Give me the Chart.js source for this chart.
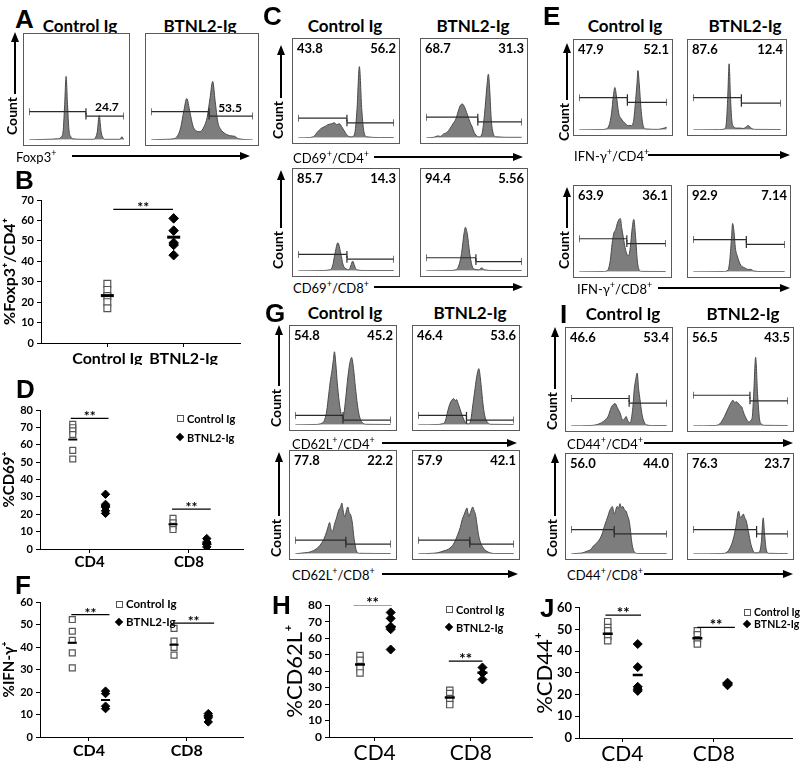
<!DOCTYPE html>
<html>
<head>
<meta charset="utf-8">
<script src="https://cdn.jsdelivr.net/npm/chart.js@4.4.1/dist/chart.umd.min.js"></script>
<style>
  body { margin: 0; background: #fff; }
  #fig { position: relative; width: 800px; height: 761px; overflow: hidden; font-family: Lato, 'DejaVu Sans', sans-serif; color: #000; }
  .abs { position: absolute; white-space: nowrap; line-height: 1; }
  .box { position: absolute; border: 1px solid #5a5a5a; box-sizing: border-box; background: #fff; }
  .box canvas { display: block; }
  .pct { position: absolute; top: 3px; font-weight: bold; font-size: 13px; line-height: 1; }
  sup { font-size: 9px; }
</style>
</head>
<body>
<div id="fig"></div>
<script>
// ---- histogram traces, [x %, height %] inside each plot box ----
const hA1 = [[0,0],[20,0.5],[30,1],[34,3],[36,10],[37.5,35],[39,63],[40.5,35],[42,10],[44,3],[46,1],[55,0.5],[68,0.5],[70,2],[72,8],[74,24],[76,8],[78,2],[80,0.5],[96,0.5],[98,3],[100,0]];
const hA2 = [[0,0],[15,0.5],[22,1],[26,4],[29,12],[32,28],[35,41],[38,28],[41,14],[44,9],[48,8],[52,13],[55,22],[58,42],[60.5,58],[63,38],[65.5,18],[68,11],[73,6],[78,4],[82,3.5],[86,1],[100,0]];

const hC1 = [[0,0],[12,0.3],[17,2],[20,6],[24,10],[28,12],[31,14],[35,15],[38,16],[40,14],[43,15],[46,11],[49,6],[52,2],[56,1],[59,4],[61.5,30],[64,76],[66.5,30],[69,5],[72,1],[85,0.3],[100,0.3]];
const hC2 = [[0,0],[8,0.5],[12,2],[15,1.5],[18,4],[22,6],[25,10],[28,15],[31,20],[34,30],[36,35],[38,36],[40,33],[43,25],[46,16],[48,12],[50,6],[52,3],[55,1],[58,3],[61,25],[63.5,55],[65,68],[66.5,50],[68,20],[70,5],[73,1],[90,0.5],[100,0.5]];
const hC3 = [[0,0],[25,0.3],[33,1],[36,5],[38.5,18],[41.5,29],[44.5,18],[47,6],[50,2],[53,1],[55,5],[57,10],[59,5],[61,1],[70,0.3],[100,0.3]];
const hC4 = [[0,0],[25,0.3],[31,1],[34,5],[37,18],[39.5,38],[41,45],[43,38],[45.5,18],[48,5],[51,1.5],[55,1],[58,3],[61,1],[70,0.3],[100,0.3]];

const hE1 = [[0,0],[25,0.3],[31,1],[34,5],[37,20],[39,40],[40.7,50],[42.5,40],[45,20],[48,13],[52,8],[56,5],[59,5],[62,10],[64,30],[66,55],[67,70],[68.5,55],[70.5,25],[73,5],[76,1],[90,0.5],[97,2],[100,3]];
const hE2 = [[0,0],[30,0.3],[36,1],[38,10],[39.5,40],[41,78],[42.5,40],[44,12],[46,4],[50,2],[54,2],[57,1.5],[60,3],[63,5],[66,2],[70,0.5],[100,0.3]];
const hE3 = [[0,0],[28,0.3],[33,2],[36,15],[38,35],[40,48],[42,52],[44,60],[46,65],[47.5,66],[49,55],[51,42],[53,30],[55,22],[57,20],[59,30],[61,52],[63,65],[65,45],[67,15],[69,3],[72,0.5],[100,0.3]];
const hE4 = [[0,0],[33,0.3],[38,2],[40,15],[42,45],[43,60],[44.5,50],[46,30],[48,20],[50,13],[52,8],[56,5],[60,3],[63,3],[66,1],[75,0.3],[100,0.3]];

const hG1 = [[0,0],[20,0.3],[28.5,2],[31,6],[33,15],[35,32],[36.5,45],[38.5,58],[40,70],[41,78],[42.5,65],[44,45],[46,25],[48,12],[49.5,8],[51,12],[53,30],[55,50],[57,65],[59,72],[61,60],[63,40],[65,22],[67,10],[70.5,2],[75,0.5],[100,0.3]];
const hG2 = [[0,0],[20,0.3],[25,1],[28,3],[31,15],[33,22],[35,26],[37,28],[39,26],[40,27],[42,22],[44,16],[46,10],[48,5],[50,2],[52.6,1],[55,5],[57,20],[59,35],[61,50],[63.5,60],[65,50],[66.5,35],[68,20],[70,8],[73,2],[76,0.5],[100,0.3]];
const hG3 = [[0,0],[10,1],[16,2],[22,5],[27,10],[30,15],[33,23],[34.5,28],[36,32],[37.5,25],[39,23],[41,30],[43,36],[45.6,45],[47.5,48],[48.8,52],[50,45],[51,40],[52,38],[53.5,44],[55,48],[56.5,42],[58,40],[60,30],[61,20],[62.5,10],[64,3],[67,0.5],[100,0.3]];
const hG4 = [[0,0],[15,0.5],[20,1],[27,3],[32,5],[37,10],[41.5,20],[44,27],[46,35],[48,40],[49.5,44],[51,47],[52,42],[53,38],[54.5,42],[56,46],[57,48],[58.5,44],[60,40],[61.5,30],[63,20],[65,12],[68,6],[71,3],[75,1],[80,0.3],[100,0.3]];

const hI1 = [[0,0],[20,0.3],[29,2],[34,5],[38.5,10],[42,20],[44,23],[46,24],[48,20],[51,14],[54,6],[56,8],[57.5,10],[59,6],[61.5,3],[63,8],[64.5,20],[66,40],[67.5,50],[69,57],[70.5,40],[72,28],[73.5,16],[75,8],[78.5,1],[85,0.3],[100,0.3]];
const hI2 = [[0,0],[22,0.3],[28,2],[33,10],[37.5,20],[40,25],[42,27.6],[44,25],[45.5,26],[47,25],[49.5,22],[51.5,20],[53,15],[55,10],[57,6],[59,4],[61,6],[62.5,10],[64,35],[66,74],[68,35],[70,8],[72,2],[76,0.5],[100,0.3]];
const hI3 = [[0,0],[8,0.5],[12,1],[17,3],[20,4],[23,8],[28,13],[32,20],[35,30],[38.5,40],[40,45],[41.5,48],[43,50],[45,42],[46.5,46],[48,50],[49.5,48],[51,53],[52.5,49],[54,50],[56,46],[57.5,45],[59,40],[60.6,35],[62,25],[63,15],[64.5,6],[66,2],[70,0.3],[100,0.3]];
const hI4 = [[0,0],[30,0.3],[36,2],[40.6,10],[43,18],[45,28],[48,45],[50,38],[51.5,40],[53,42],[54.5,38],[56,35],[59,20],[61,10],[62.5,5],[64,2],[66,1],[70,2],[72,12],[74,38],[75.5,20],[77.5,3],[80,0.5],[100,0.3]];

// gates: [split %, left bar height %, right bar height %]
const gA = [[60, 28, 23.6], [57, 28, 23.6]];
const gC = [[51, 21, 16], [54, 22, 17], [51, 17, 12], [52, 13.5, 9.5]];
const gE = [[55, 38, 32.5], [55, 38, 31.5], [55, 41, 35], [58, 40, 34]];
const gG = [[50, 10, 5], [50.5, 10, 5], [53, 14, 10], [54, 14, 10]];
const gI = [[60.6, 29.5, 24.4], [60, 33, 27], [45, 25.6, 21], [67, 25.6, 21]];

// gate percentages
const pA = ['24.7', '53.5'];
const pC = [['43.8', '56.2'], ['68.7', '31.3'], ['85.7', '14.3'], ['94.4', '5.56']];
const pE = [['47.9', '52.1'], ['87.6', '12.4'], ['63.9', '36.1'], ['92.9', '7.14']];
const pG = [['54.8', '45.2'], ['46.4', '53.6'], ['77.8', '22.2'], ['57.9', '42.1']];
const pI = [['46.6', '53.4'], ['56.5', '43.5'], ['56.0', '44.0'], ['76.3', '23.7']];

// ---- dot plots ----
const groups = ['Control Ig', 'BTNL2-Ig'];
const cells = ['CD4', 'CD8'];

const bCtrl = [[29, 26, 23, 20, 17]];
const bBtnl = [[61, 55, 49, 48, 43]];
const bMeanCtrl = [23.2];
const bMeanBtnl = [51.8];
const bSig = [65.4];

const dCtrl = [[71.7, 69.8, 68, 65.9, 56.8, 51.8], [17.6, 15, 13.1, 11.2]];
const dBtnl = [[31.5, 25.7, 24, 22, 20.5], [6, 4, 2.7, 1.2]];
const dMeanCtrl = [63, 14.3];
const dMeanBtnl = [24.7, 3];
const dSig = [75.2, 23];

const fCtrl = [[52.2, 47, 43, 37.4, 30.7], [48.3, 42.6, 39.8, 36.4]];
const fBtnl = [[20.4, 19.3, 13.7, 12.6], [10.4, 9.4, 8.5, 6.7]];
const fMeanCtrl = [41.9, 41];
const fMeanBtnl = [16.5, 9.5];
const fSig = [54.4, 50.6];

const hCtrl = [[49.4, 46.6, 42.2, 38.9], [28.4, 26.4, 23.3, 19.7]];
const hBtnl = [[75.6, 72, 67, 65.4, 53.1], [42.2, 38.9, 34.9]];
const hMeanCtrl = [44, 24];
const hMeanBtnl = [66.8, 39];
const hSig = [80.2, 46];

const jCtrl = [[53.6, 50.9, 49.4, 46.8, 44.8], [49.4, 47.6, 45.3, 43.3]];
const jBtnl = [[43.3, 32.7, 23.6, 22.5, 21.7], [25.5, 24.3]];
const jMeanCtrl = [48, 46];
const jMeanBtnl = [29, 25];
const jSig = [56.6, 51];

// ---------------------------------------------------------------
const FONT = "Lato, 'DejaVu Sans', sans-serif";
Chart.defaults.font.family = FONT;
Chart.defaults.color = '#000';

const fig = document.getElementById('fig');

function put(html, css) {
  const d = document.createElement('div');
  d.className = 'abs';
  d.innerHTML = html;
  Object.assign(d.style, css);
  fig.appendChild(d);
  return d;
}

function letter(t, x, y) {
  put(t, { left: x + 'px', top: y + 'px', font: "bold 26px 'Liberation Sans', Arial, sans-serif" });
}

function heading(t, cx, cy) {
  put(t, { left: cx + 'px', top: cy + 'px', transform: 'translate(-50%,-50%)', fontWeight: 'bold', fontSize: '17px' });
}

function hArrow(x1, x2, y) {
  put('', { left: x1 + 'px', top: (y - 0.75) + 'px', width: (x2 - x1 - 8) + 'px', height: '1.5px', background: '#000' });
  put('', { left: (x2 - 10) + 'px', top: (y - 4) + 'px', width: 0, height: 0,
    borderLeft: '10px solid #000', borderTop: '4px solid transparent', borderBottom: '4px solid transparent' });
}

function axisLabel(html, x, y, x1, x2) {
  put(html, { left: x + 'px', top: y + 'px', transform: 'translateY(-50%)', fontSize: '13px' });
  hArrow(x1, x2, y);
}

function count(x, yTop, cy) {
  put('', { left: (x - 4) + 'px', top: yTop + 'px', width: 0, height: 0,
    borderBottom: '10px solid #000', borderLeft: '4px solid transparent', borderRight: '4px solid transparent' });
  put('', { left: (x - 0.75) + 'px', top: (yTop + 8) + 'px', width: '1.5px', height: (cy - 22 - yTop - 8) + 'px', background: '#000' });
  put('Count', { left: (x - 3) + 'px', top: cy + 'px', transform: 'translate(-50%,-50%) rotate(-90deg)', fontWeight: 'bold', fontSize: '14px' });
}

function histo(box, pts, gate, pct, at) {
  const [x, y, w, h] = box;
  const wrap = document.createElement('div');
  wrap.className = 'box';
  Object.assign(wrap.style, { left: x + 'px', top: y + 'px', width: w + 'px', height: h + 'px' });
  const cv = document.createElement('canvas');
  cv.width = w - 2;
  cv.height = h - 2;
  wrap.appendChild(cv);
  fig.appendChild(wrap);

  const gateLine = (x0, x1, v) => ({
    data: [{ x: x0, y: v }, { x: x1, y: v }],
    showLine: true, borderColor: '#2b2b2b', borderWidth: 1.2,
    pointStyle: 'line', pointRotation: 90, pointRadius: 3.5,
    pointBorderColor: '#2b2b2b', pointBorderWidth: 1.2
  });

  new Chart(cv, {
    type: 'scatter',
    data: {
      datasets: [
        gateLine(0, gate[0], gate[1]),
        gateLine(gate[0], 100, gate[2]),
        {
          data: pts.map(p => ({ x: p[0], y: p[1] })),
          showLine: true, fill: 'origin', backgroundColor: '#7d7d7d',
          borderColor: '#4a4a4a', borderWidth: 1, pointRadius: 0,
          cubicInterpolationMode: 'monotone'
        }
      ]
    },
    options: {
      responsive: false, animation: false, events: [],
      layout: { padding: 0 },
      plugins: { legend: { display: false }, tooltip: { enabled: false } },
      scales: {
        x: { type: 'linear', min: 0, max: 100, display: false },
        y: { min: 0, max: 100, display: false }
      }
    }
  });

  if (at) {
    const s = document.createElement('div');
    s.className = 'pct';
    s.textContent = pct;
    Object.assign(s.style, { left: at[0] + '%', top: (100 - at[1]) + '%', transform: 'translate(-50%,-100%)', fontSize: '12px' });
    wrap.appendChild(s);
  } else {
    const l = document.createElement('div');
    l.className = 'pct';
    l.style.left = '4px';
    l.textContent = pct[0];
    const r = document.createElement('div');
    r.className = 'pct';
    r.style.right = '3px';
    r.textContent = pct[1];
    wrap.appendChild(l);
    wrap.appendChild(r);
  }
}

const starPlugin = {
  id: 'stars',
  afterDatasetsDraw(chart, args, opts) {
    const ctx = chart.ctx;
    chart.data.datasets.forEach((ds, i) => {
      if (!ds.stars) return;
      const pts = chart.getDatasetMeta(i).data;
      ctx.save();
      ctx.font = opts.font;
      ctx.fillStyle = '#000';
      ctx.textAlign = 'center';
      ctx.textBaseline = 'alphabetic';
      ctx.fillText('**', (pts[0].x + pts[1].x) / 2, pts[0].y + opts.dy);
      ctx.restore();
    });
  }
};

function dotPlot(o) {
  const cv = document.createElement('canvas');
  cv.width = o.w;
  cv.height = o.h;
  Object.assign(cv.style, { position: 'absolute', left: o.x + 'px', top: o.y + 'px' });
  fig.appendChild(cv);

  const tickX = o.tickX || o.cats.map((c, i) => i + 1);
  const at = (vals, xs) => vals.flatMap((arr, i) => arr.map(v => ({ x: xs[i], y: v })));
  const datasets = [
    { data: o.meanCtrl.map((v, i) => ({ x: o.ctrlX[i], y: v })), pointStyle: 'line', pointRadius: o.dash, pointBorderWidth: o.dashW, pointBorderColor: '#000' },
    { data: o.meanBtnl.map((v, i) => ({ x: o.btnlX[i], y: v })), pointStyle: 'line', pointRadius: o.dash, pointBorderWidth: o.dashW, pointBorderColor: '#000' }
  ];
  o.sig.forEach((v, i) => datasets.push({
    data: [{ x: o.sigX[i][0], y: v }, { x: o.sigX[i][1], y: v }],
    showLine: true, borderColor: '#000', borderWidth: 1.3, pointRadius: 0, stars: true
  }));
  datasets.push({ data: at(o.ctrl, o.ctrlX), pointStyle: 'rect', pointRadius: o.r, backgroundColor: '#fff', borderColor: '#555', borderWidth: 1.2 });
  datasets.push({ data: at(o.btnl, o.btnlX), pointStyle: 'rectRot', pointRadius: o.r, backgroundColor: '#000', borderColor: '#000', borderWidth: 1 });

  new Chart(cv, {
    type: 'scatter',
    data: { datasets },
    options: {
      responsive: false, animation: false, events: [],
      layout: { padding: o.pad },
      plugins: { legend: { display: false }, tooltip: { enabled: false }, stars: { font: o.starFont, dy: o.starDy } },
      scales: {
        x: {
          type: 'linear', min: o.xMin, max: o.xMax,
          afterBuildTicks: s => { s.ticks = tickX.map(v => ({ value: v })); },
          afterFit: s => { s.height = o.xH; },
          ticks: { callback: (v, i) => o.cats[i], font: o.xFont, color: '#000', padding: o.xPad, maxRotation: 0, autoSkip: false },
          grid: { drawOnChartArea: false, tickLength: 4, color: '#000' },
          border: { color: '#000', width: 1 }
        },
        y: {
          min: 0, max: o.yMax,
          afterFit: s => { s.width = o.yW; },
          ticks: { stepSize: 10, autoSkip: false, font: o.yFont, color: '#000', padding: 3 },
          grid: { drawOnChartArea: false, tickLength: 4, color: '#000' },
          border: { color: '#000', width: 1 },
          title: { display: true, text: o.yTitle, font: o.titleFont, color: '#000', padding: { top: o.titlePad, bottom: 0 } }
        }
      }
    },
    plugins: [starPlugin]
  });
}

function legend(x, y1, y2, size) {
  put('', { left: (x - 3.5) + 'px', top: (y1 - 3.5) + 'px', width: '7px', height: '7px', border: '1.2px solid #555', boxSizing: 'border-box' });
  put('', { left: (x - 3) + 'px', top: (y2 - 3) + 'px', width: '6px', height: '6px', background: '#000', transform: 'rotate(45deg)' });
  put(groups[0], { left: (x + 7) + 'px', top: y1 + 'px', transform: 'translateY(-50%)', fontWeight: 'bold', fontSize: size + 'px' });
  put(groups[1], { left: (x + 7) + 'px', top: y2 + 'px', transform: 'translateY(-50%)', fontWeight: 'bold', fontSize: size + 'px' });
}

// ---- panel A ----
letter('A', 15, 4);
heading(groups[0], 80, 25);
heading(groups[1], 200, 25);
histo([23, 33, 107, 113], hA1, gA[0], pA[0], [79, 29]);
histo([145, 33, 114, 113], hA2, gA[1], pA[1], [75, 28]);
count(15, 32, 116);
axisLabel('Foxp3<sup>+</sup>', 16, 156, 72, 250);

// ---- panel C ----
letter('C', 263, 1);
heading(groups[0], 345, 25);
heading(groups[1], 473, 25);
[[292, 38, 108, 106], [420, 38, 108, 106], [292, 168, 108, 109], [420, 168, 108, 109]]
  .forEach((b, i) => histo(b, [hC1, hC2, hC3, hC4][i], gC[i], pC[i]));
count(281, 45, 120);
count(281, 170, 250);
axisLabel('CD69<sup>+</sup>/CD4<sup>+</sup>', 293, 157, 374, 523);
axisLabel('CD69<sup>+</sup>/CD8<sup>+</sup>', 293, 287, 374, 523);

// ---- panel E ----
letter('E', 543, 1);
heading(groups[0], 625, 25);
heading(groups[1], 745, 25);
[[573, 39, 100, 97], [687, 39, 100, 97], [573, 185, 99, 93], [687, 185, 104, 93]]
  .forEach((b, i) => histo(b, [hE1, hE2, hE3, hE4][i], gE[i], pE[i]));
count(567, 43, 122);
count(567, 187, 250);
axisLabel('IFN-γ<sup>+</sup>/CD4<sup>+</sup>', 574, 155, 648, 790);
axisLabel('IFN-γ<sup>+</sup>/CD8<sup>+</sup>', 577, 288, 658, 790);

// ---- panel G ----
letter('G', 265, 298);
heading(groups[0], 345, 312);
heading(groups[1], 470, 312);
[[289, 325, 108, 106], [412, 325, 108, 106], [289, 450, 108, 110], [412, 450, 108, 110]]
  .forEach((b, i) => histo(b, [hG1, hG2, hG3, hG4][i], gG[i], pG[i]));
count(279, 325, 408);
count(279, 452, 538);
axisLabel('CD62L<sup>+</sup>/CD4<sup>+</sup>', 292, 443, 382, 517);
axisLabel('CD62L<sup>+</sup>/CD8<sup>+</sup>', 292, 574, 382, 518);

// ---- panel I ----
letter('I', 560, 299);
heading(groups[0], 623, 313);
heading(groups[1], 743, 313);
[[565, 327, 108, 105], [687, 327, 107, 105], [565, 453, 108, 107], [687, 453, 107, 107]]
  .forEach((b, i) => histo(b, [hI1, hI2, hI3, hI4][i], gI[i], pI[i]));
count(555, 327, 411);
count(555, 453, 538);
axisLabel('CD44<sup>+</sup>/CD4<sup>+</sup>', 567, 443, 644, 793);
axisLabel('CD44<sup>+</sup>/CD8<sup>+</sup>', 567, 574, 644, 793);

// ---- panel B ----
letter('B', 15, 165);
dotPlot({
  x: 0, y: 190, w: 250, h: 185, pad: { top: 10, right: 10, bottom: 10, left: 0 },
  xH: 22, yW: 41, xMin: 0, xMax: 3, yMax: 70, cats: groups, tickX: [1, 2.15], xPad: 2,
  ctrl: bCtrl, btnl: bBtnl, meanCtrl: bMeanCtrl, meanBtnl: bMeanBtnl, sig: bSig,
  ctrlX: [1], btnlX: [2], sigX: [[1.09, 1.99]],
  r: 4.8, dash: 6.5, dashW: 3,
  xFont: { size: 16, weight: 'bold' }, yFont: { size: 11, weight: 'bold' },
  yTitle: '%Foxp3⁺/CD4⁺', titleFont: { size: 16, weight: 'bold' }, titlePad: 0,
  starFont: "bold 14px " + FONT, starDy: 3
});

// ---- panel D ----
letter('D', 16, 374);
dotPlot({
  x: 0, y: 400, w: 250, h: 190, pad: { top: 10, right: 5, bottom: 15, left: 0 },
  xH: 26, yW: 40, xMin: 0.5, xMax: 2.55, yMax: 80, cats: cells, xPad: 0,
  ctrl: dCtrl, btnl: dBtnl, meanCtrl: dMeanCtrl, meanBtnl: dMeanBtnl, sig: dSig,
  ctrlX: [0.83, 1.84], btnlX: [1.16, 2.18], sigX: [[0.81, 1.19], [1.83, 2.22]],
  r: 4.2, dash: 4.5, dashW: 2,
  xFont: { size: 15, weight: 'bold' }, yFont: { size: 11, weight: 'bold' },
  yTitle: '%CD69⁺', titleFont: { size: 15, weight: 'bold' }, titlePad: 0,
  starFont: "bold 14px " + FONT, starDy: 3
});
legend(180, 418, 437, 11);

// ---- panel F ----
letter('F', 15, 570);
dotPlot({
  x: 0, y: 592, w: 250, h: 175, pad: { top: 10, right: 2, bottom: 10, left: 0 },
  xH: 20, yW: 40, xMin: 0.5, xMax: 2.58, yMax: 60, cats: cells, xPad: 0,
  ctrl: fCtrl, btnl: fBtnl, meanCtrl: fMeanCtrl, meanBtnl: fMeanBtnl, sig: fSig,
  ctrlX: [0.83, 1.87], btnlX: [1.17, 2.22], sigX: [[0.82, 1.21], [1.86, 2.28]],
  r: 4.2, dash: 4.5, dashW: 2,
  xFont: { size: 16, weight: 'bold' }, yFont: { size: 11, weight: 'bold' },
  yTitle: '%IFN-γ⁺', titleFont: { size: 15, weight: 'bold' }, titlePad: 0,
  starFont: "bold 14px " + FONT, starDy: 3
});
legend(119, 604, 622, 11.5);

// ---- panel H ----
letter('H', 272, 590);
dotPlot({
  x: 270, y: 595, w: 270, h: 180, pad: { top: 10, right: 3, bottom: 15, left: 0 },
  xH: 23, yW: 59, xMin: 0.525, xMax: 2.64, yMax: 80, cats: cells, xPad: 0,
  ctrl: hCtrl, btnl: hBtnl, meanCtrl: hMeanCtrl, meanBtnl: hMeanBtnl, sig: hSig,
  ctrlX: [0.847, 1.78], btnlX: [1.166, 2.12], sigX: [[0.78, 1.176], [1.77, 2.12]],
  r: 4.5, dash: 5, dashW: 2.5,
  xFont: { size: 21 }, yFont: { size: 12, weight: 'bold' },
  yTitle: '%CD62L⁺', titleFont: { size: 22 }, titlePad: 12,
  starFont: "bold 15px " + FONT, starDy: 3
});
legend(449, 609, 627, 11);

// ---- panel J ----
letter('J', 540, 593);
dotPlot({
  x: 530, y: 597, w: 270, h: 180, pad: { top: 10, right: 3, bottom: 15, left: 0 },
  xH: 24, yW: 49, xMin: 0.526, xMax: 2.86, yMax: 60, cats: cells, xPad: 0,
  ctrl: jCtrl, btnl: jBtnl, meanCtrl: jMeanCtrl, meanBtnl: jMeanBtnl, sig: jSig,
  ctrlX: [0.84, 1.82], btnlX: [1.168, 2.15], sigX: [[0.815, 1.204], [1.82, 2.23]],
  r: 4.5, dash: 5, dashW: 2.5,
  xFont: { size: 21 }, yFont: { size: 13, weight: 'bold' },
  yTitle: '%CD44⁺', titleFont: { size: 22 }, titlePad: 2,
  starFont: "bold 15px " + FONT, starDy: 3
});
legend(747, 612, 624, 10.5);
</script>
</body>
</html>
